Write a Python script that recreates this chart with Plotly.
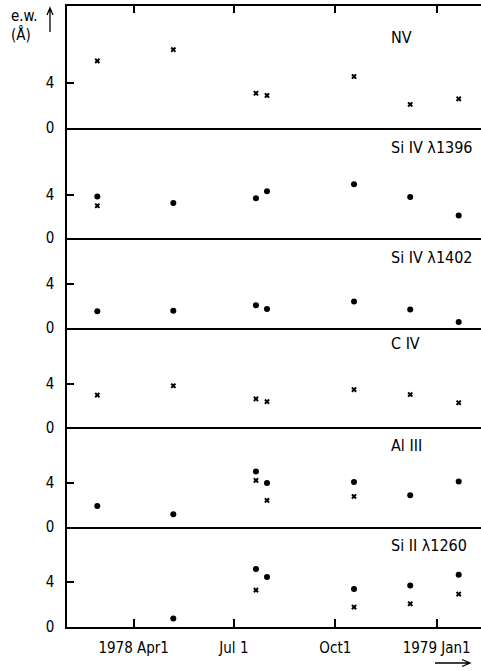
import plotly.graph_objects as go
from plotly.subplots import make_subplots

# Observation epochs (1978-1979)
obs_dates = ["1978-02-27", "1978-05-07", "1978-07-21", "1978-07-31",
             "1978-10-18", "1978-12-08", "1979-01-21"]

# Equivalent widths (Angstrom); None = not measured
nv_cross = [6.0, 7.0, 3.1, 2.9, 4.6, 2.1, 2.6]
si4_1396_dot = [3.85, 3.25, 3.7, 4.35, 5.0, 3.8, 2.1]
si4_1396_cross = [3.0, None, None, None, None, None, None]
si4_1402_dot = [1.5, 1.55, 2.05, 1.7, 2.4, 1.65, 0.5]
c4_cross = [2.95, 3.8, 2.6, 2.35, 3.45, 3.0, 2.25]
al3_dot = [1.9, 1.15, 5.0, 3.95, 4.05, 2.85, 4.1]
al3_cross = [None, None, 4.2, 2.4, 2.75, None, None]
si2_dot = [None, 0.75, 5.1, 4.4, 3.35, 3.65, 4.6]
si2_cross = [None, None, 3.25, None, 1.75, 2.05, 2.9]

panel_names = ["NV", "Si IV λ1396", "Si IV λ1402", "C IV", "Al III", "Si II λ1260"]
panel_dots = [None, si4_1396_dot, si4_1402_dot, None, al3_dot, si2_dot]
panel_crosses = [nv_cross, si4_1396_cross, None, c4_cross, al3_cross, si2_cross]
panel_ymax = [10.9, 10.2, 8.2, 9.1, 8.95, 8.8]
panel_heights = [122, 110.3, 89.4, 100, 99.6, 100]

x_ticks = ["1978-04-01", "1978-07-01", "1978-10-01", "1979-01-01"]
x_ticktext = ["1978 Apr1", "Jul 1", "Oct1", "1979 Jan1"]

FONT = "DejaVu Sans Condensed, Liberation Sans Narrow, sans-serif"
W, H = 481, 671
ML, MR, MT, MB = 67, 0, 6, 44

fig = make_subplots(rows=6, cols=1, shared_xaxes=True, vertical_spacing=0,
                    row_heights=panel_heights)

for i in range(6):
    r = i + 1
    if panel_dots[i] is not None:
        fig.add_trace(go.Scatter(x=obs_dates, y=panel_dots[i], mode="markers",
                                 marker=dict(symbol="circle", size=6, color="black"),
                                 showlegend=False), row=r, col=1)
    if panel_crosses[i] is not None:
        fig.add_trace(go.Scatter(x=obs_dates, y=panel_crosses[i], mode="markers",
                                 marker=dict(symbol="x", size=5, color="black",
                                             line=dict(width=0)),
                                 showlegend=False), row=r, col=1)
    fig.update_yaxes(range=[0, panel_ymax[i]], tickmode="array",
                     tickvals=[0, 4], ticktext=["0", "4"],
                     ticks="inside", ticklen=7, tickwidth=2, tickcolor="black",
                     showline=True, linecolor="black", linewidth=1.5,
                     showgrid=False, zeroline=False, ticklabelstandoff=8,
                     tickfont=dict(family=FONT, size=15, color="black"),
                     row=r, col=1)
    xa = dict(range=["1978-01-30 12:00", "1979-02-10 06:00"], tickmode="array",
              tickvals=x_ticks, ticktext=x_ticktext, showline=True, mirror=False,
              linecolor="black", linewidth=1.5, showgrid=False, zeroline=False,
              showticklabels=False, ticks="")
    if r == 1:
        # top frame edge with ticks; mirrored line closes the panel at zero
        xa.update(side="top", mirror=True, ticks="inside", ticklen=7,
                  tickwidth=2, tickcolor="black")
    if r == 6:
        xa.update(ticks="inside", ticklen=8, tickwidth=2, tickcolor="black",
                  showticklabels=True, ticklabelstandoff=6,
                  tickfont=dict(family=FONT, size=15, color="black"))
    fig.update_xaxes(row=r, col=1, **xa)

plot_h = H - MT - MB
plot_w = W - ML - MR


def px_x(px):
    return (px - ML) / plot_w


def px_y(py):
    return (H - MB - py) / plot_h


# Panel labels
label_y_px = [37, 147, 257, 343, 445, 545]
for name, py in zip(panel_names, label_y_px):
    fig.add_annotation(text=name, xref="paper", yref="paper",
                       x=px_x(389), y=px_y(py),
                       xanchor="left", yanchor="middle", showarrow=False,
                       font=dict(family=FONT, size=16, color="black"))

# Axis title with upward arrow
fig.add_annotation(text="e.w.", xref="paper", yref="paper", x=px_x(9), y=px_y(16),
                   xanchor="left", yanchor="middle", showarrow=False,
                   font=dict(family=FONT, size=15, color="black"))
fig.add_annotation(text="(Å)", xref="paper", yref="paper", x=px_x(9), y=px_y(35),
                   xanchor="left", yanchor="middle", showarrow=False,
                   font=dict(family=FONT, size=15, color="black"))

arrow_style = dict(type="path", xref="paper", yref="paper",
                   line=dict(color="black", width=1.3))
ux = px_x(50)
fig.add_shape(path=f"M {ux},{px_y(32)} L {ux},{px_y(8)} "
                   f"M {px_x(47)},{px_y(15)} L {ux},{px_y(8)} L {px_x(53)},{px_y(15)}",
              **arrow_style)
# time arrow under the axis
ay = px_y(663)
fig.add_shape(path=f"M {px_x(435)},{ay} L {px_x(470)},{ay} "
                   f"M {px_x(462)},{px_y(659.5)} L {px_x(470)},{ay} L {px_x(462)},{px_y(666.5)}",
              **arrow_style)

fig.update_layout(template="none", width=W, height=H,
                  margin=dict(l=ML, r=MR, t=MT, b=MB),
                  paper_bgcolor="white", plot_bgcolor="white",
                  font=dict(family=FONT, color="black"))

fig.write_html("out.html")
